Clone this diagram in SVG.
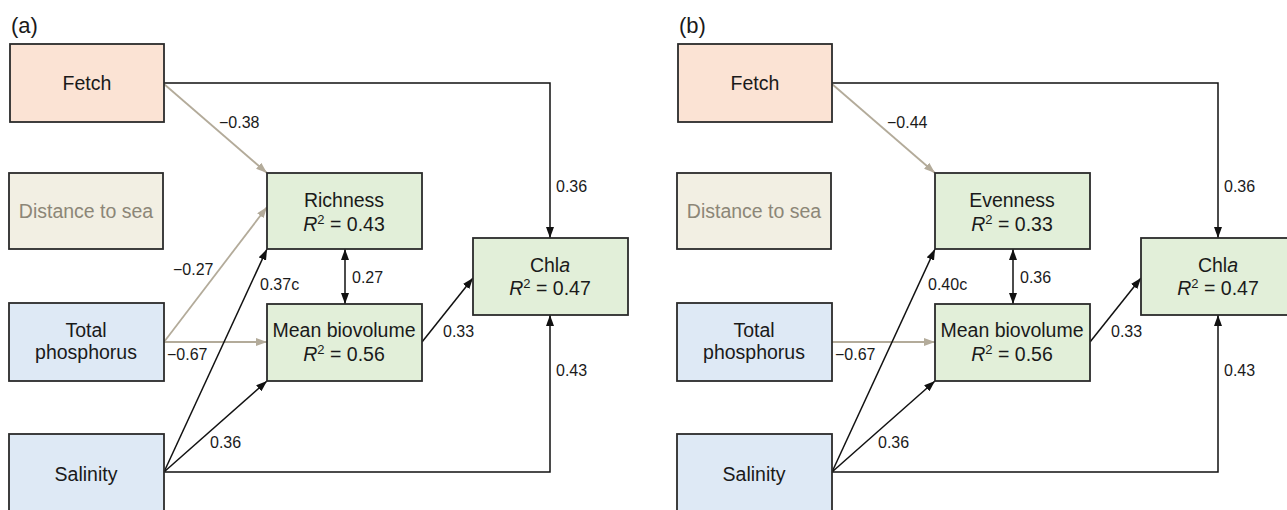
<svg xmlns="http://www.w3.org/2000/svg" width="1287" height="510" viewBox="0 0 1287 510">
<style>
text{font-family:"Liberation Sans",Arial,sans-serif;fill:#1a1a1a}
.node{font-size:19.5px;text-anchor:middle}
.lab{font-size:16px}
.pl{font-size:22px}
.box{stroke:#2b2b2b;stroke-width:1.8}
.fetch{fill:#FBE3D4}
.dist{fill:#F2EFE3}
.blue{fill:#DEE9F5}
.green{fill:#E2EFD9}
.grey{fill:#8C8677}
.k{fill:none;stroke:#111;stroke-width:1.5}
.t{fill:none;stroke:#B3AB9A;stroke-width:1.8}
.it{font-style:italic}
</style>
<defs>
<marker id="ak" markerUnits="userSpaceOnUse" markerWidth="11" markerHeight="8" refX="11" refY="4" orient="auto-start-reverse"><path d="M0,0 L11,4 L0,8 z" fill="#111"/></marker>
<marker id="at" markerUnits="userSpaceOnUse" markerWidth="11" markerHeight="8" refX="11" refY="4" orient="auto"><path d="M0,0 L11,4 L0,8 z" fill="#B3AB9A"/></marker>
</defs>

<g id="panel-a">
<text class="pl" x="11" y="33">(a)</text>
<g id="connectors-a">
<path class="k" d="M164,83 H550 V238" marker-end="url(#ak)"/>
<path class="k" d="M164,472 H550 V315" marker-end="url(#ak)"/>
<path class="t" d="M164,84 L267,173" marker-end="url(#at)"/>
<path class="t" d="M164,342 L267,207" marker-end="url(#at)"/>
<path class="t" d="M164,342 L267,342" marker-end="url(#at)"/>
<path class="k" d="M164,472 L267,249" marker-end="url(#ak)"/>
<path class="k" d="M164,472 L267,381" marker-end="url(#ak)"/>
<path class="k" d="M345,249 V304" marker-start="url(#ak)" marker-end="url(#ak)"/>
<path class="k" d="M422,342 L473,278" marker-end="url(#ak)"/>
<text class="lab" x="556" y="192">0.36</text>
<text class="lab" x="556" y="376">0.43</text>
<text class="lab" x="219" y="128">−0.38</text>
<text class="lab" x="173" y="275">−0.27</text>
<text class="lab" x="167" y="360">−0.67</text>
<text class="lab" x="260" y="290">0.37c</text>
<text class="lab" x="210" y="448">0.36</text>
<text class="lab" x="352" y="283">0.27</text>
<text class="lab" x="443" y="337">0.33</text>
</g>
<g id="a-fetch"><rect class="box fetch" x="10" y="44" width="154" height="78"/><text class="node" x="87" y="90">Fetch</text></g>
<g id="a-distance"><rect class="box dist" x="9" y="173" width="154" height="76"/><text class="node grey" x="86" y="218">Distance to sea</text></g>
<g id="a-tp"><rect class="box blue" x="9" y="303" width="155" height="78"/><text class="node" x="86" y="337">Total</text><text class="node" x="86" y="359">phosphorus</text></g>
<g id="a-salinity"><rect class="box blue" x="9" y="434" width="155" height="80"/><text class="node" x="86" y="481">Salinity</text></g>
<g id="a-richness"><rect class="box green" x="267" y="173" width="155" height="76"/><text class="node" x="344" y="207">Richness</text><text class="node" x="344" y="231"><tspan class="it">R</tspan><tspan font-size="13" dy="-7">2</tspan><tspan dy="7"> = 0.43</tspan></text></g>
<g id="a-meanbio"><rect class="box green" x="267" y="304" width="155" height="77"/><text class="node" x="344" y="337">Mean biovolume</text><text class="node" x="344" y="361"><tspan class="it">R</tspan><tspan font-size="13" dy="-7">2</tspan><tspan dy="7"> = 0.56</tspan></text></g>
<g id="a-chla"><rect class="box green" x="473" y="238" width="155" height="77"/><text class="node" x="550" y="272">Chl<tspan class="it">a</tspan></text><text class="node" x="550" y="295"><tspan class="it">R</tspan><tspan font-size="13" dy="-7">2</tspan><tspan dy="7"> = 0.47</tspan></text></g>
</g>

<g id="panel-b" transform="translate(668,0)">
<text class="pl" x="11" y="33">(b)</text>
<g id="connectors-b">
<path class="k" d="M164,83 H550 V238" marker-end="url(#ak)"/>
<path class="k" d="M164,472 H550 V315" marker-end="url(#ak)"/>
<path class="t" d="M164,84 L267,173" marker-end="url(#at)"/>
<path class="t" d="M164,342 L267,342" marker-end="url(#at)"/>
<path class="k" d="M164,472 L267,249" marker-end="url(#ak)"/>
<path class="k" d="M164,472 L267,381" marker-end="url(#ak)"/>
<path class="k" d="M345,249 V304" marker-start="url(#ak)" marker-end="url(#ak)"/>
<path class="k" d="M422,342 L473,278" marker-end="url(#ak)"/>
<text class="lab" x="556" y="192">0.36</text>
<text class="lab" x="556" y="376">0.43</text>
<text class="lab" x="219" y="128">−0.44</text>
<text class="lab" x="167" y="360">−0.67</text>
<text class="lab" x="260" y="290">0.40c</text>
<text class="lab" x="210" y="448">0.36</text>
<text class="lab" x="352" y="283">0.36</text>
<text class="lab" x="443" y="337">0.33</text>
</g>
<g id="b-fetch"><rect class="box fetch" x="10" y="44" width="154" height="78"/><text class="node" x="87" y="90">Fetch</text></g>
<g id="b-distance"><rect class="box dist" x="9" y="173" width="154" height="76"/><text class="node grey" x="86" y="218">Distance to sea</text></g>
<g id="b-tp"><rect class="box blue" x="9" y="303" width="155" height="78"/><text class="node" x="86" y="337">Total</text><text class="node" x="86" y="359">phosphorus</text></g>
<g id="b-salinity"><rect class="box blue" x="9" y="434" width="155" height="80"/><text class="node" x="86" y="481">Salinity</text></g>
<g id="b-evenness"><rect class="box green" x="267" y="173" width="155" height="76"/><text class="node" x="344" y="207">Evenness</text><text class="node" x="344" y="231"><tspan class="it">R</tspan><tspan font-size="13" dy="-7">2</tspan><tspan dy="7"> = 0.33</tspan></text></g>
<g id="b-meanbio"><rect class="box green" x="267" y="304" width="155" height="77"/><text class="node" x="344" y="337">Mean biovolume</text><text class="node" x="344" y="361"><tspan class="it">R</tspan><tspan font-size="13" dy="-7">2</tspan><tspan dy="7"> = 0.56</tspan></text></g>
<g id="b-chla"><rect class="box green" x="473" y="238" width="155" height="77"/><text class="node" x="550" y="272">Chl<tspan class="it">a</tspan></text><text class="node" x="550" y="295"><tspan class="it">R</tspan><tspan font-size="13" dy="-7">2</tspan><tspan dy="7"> = 0.47</tspan></text></g>
</g>
</svg>
